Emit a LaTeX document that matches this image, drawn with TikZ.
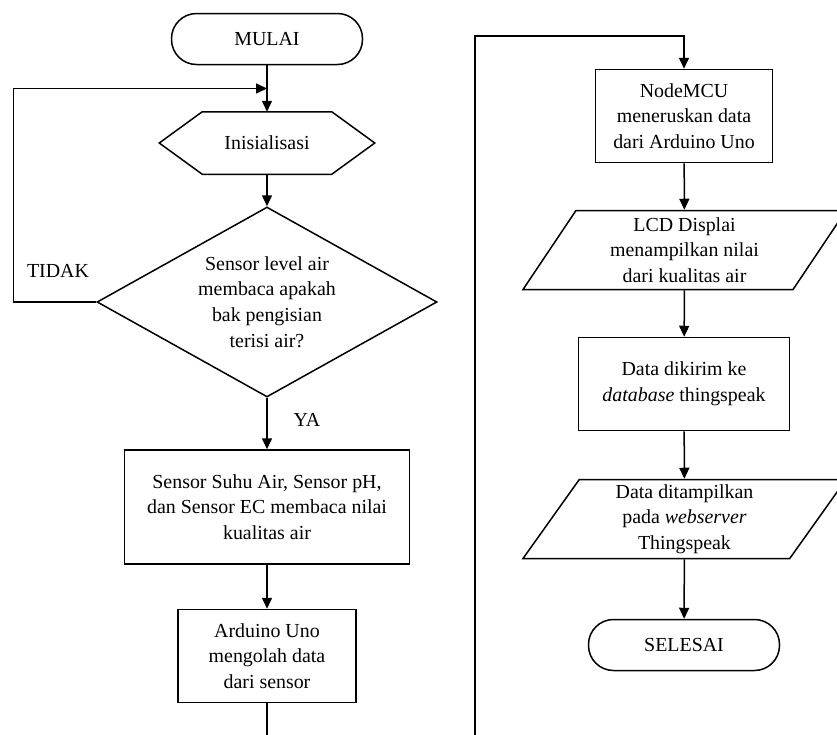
\documentclass[tikz,border=0pt]{standalone}
\usepackage{fontspec}
\setmainfont{Liberation Serif}
\usepackage{tikz}
\usetikzlibrary{shapes, shapes.geometric, calc, positioning, arrows.meta}

\tikzset{
	terminal/.style={draw, rectangle, rounded corners=25pt, minimum width=191pt, minimum height=51pt, align=center},
	process/.style={draw, rectangle, inner sep=0pt, align=center},
	io/.style={draw, trapezium, trapezium left angle=51, trapezium right angle=129, trapezium stretches body, minimum width=323pt, minimum height=79pt, inner sep=0pt, align=center},
	decision/.style={draw, diamond, aspect=1.79, minimum width=340pt, minimum height=190pt, inner sep=0pt, align=center},
	prep/.style={rectangle, minimum width=214pt, minimum height=61pt, inner sep=0pt},
	arrow/.style={-{Triangle[length=11pt, width=10pt]}}
}

\begin{document}
\begin{tikzpicture}[x=1pt, y=-1pt, line width=1.5pt, font=\fontsize{19.9}{25.7}\selectfont]
	
	%//page frame, pixels from top left
	\clip (0,0) rectangle (837,734);
	\useasboundingbox (0,0) rectangle (837,734);
	
	%//left column
	\node [terminal] (mulai) at (267,39) {MULAI};
	
	\node [prep] (init) at (267,143) {Inisialisasi};
	\draw (init.west) -- ([xshift=43pt]init.north west) -- ([xshift=-43pt]init.north east) -- (init.east)
		-- ([xshift=-43pt]init.south east) -- ([xshift=43pt]init.south west) -- cycle;
	
	\node [decision] (cek) at (267,302) {Sensor level air\\membaca apakah\\bak pengisian\\terisi air?};
	
	\node [process, minimum width=285pt, minimum height=114pt] (sensor) at (267,507) {Sensor Suhu Air, Sensor pH,\\dan Sensor EC membaca nilai\\kualitas air};
	
	\node [process, minimum width=178pt, minimum height=93pt] (arduino) at (267,656) {Arduino Uno\\mengolah data\\dari sensor};
	
	\node (tidak) at (58,271) {TIDAK};
	\node (ya) at (307,420) {YA};
	
	%//right column
	\node [process, minimum width=177pt, minimum height=93pt] (nodemcu) at (684,116) {NodeMCU\\meneruskan data\\dari Arduino Uno};
	
	\node [io] (lcd) at (684.5,250) {LCD Displai\\menampilkan nilai\\dari kualitas air};
	
	\node [process, minimum width=211pt, minimum height=93pt] (db) at (684,384) {Data dikirim ke\\\textit{database} thingspeak};
	
	\node [io] (web) at (684.5,519) {Data ditampilkan\\pada \textit{webserver}\\Thingspeak};
	
	\node [terminal] (selesai) at (684,645) {SELESAI};
	
	%//connectors
	\coordinate (merge) at ($(mulai.south)!0.5!(init.north)$);
	\coordinate (bawah) at (267,760);
	\coordinate (atas) at (475,36);
	
	\draw [arrow] (mulai) -- (init);
	\draw [arrow] (init) -- (cek);
	\draw [arrow] (cek) -- (sensor);
	\draw [arrow] (sensor) -- (arduino);
	\draw [arrow] (cek.west) -- ++(-83,0) |- (merge);
	\draw [arrow] (arduino.south) -- (bawah) -| (atas) -| (nodemcu.north);
	
	\draw [arrow] (nodemcu) -- (lcd);
	\draw [arrow] (lcd) -- (db);
	\draw [arrow] (db) -- (web);
	\draw [arrow] (web) -- (selesai);
	
\end{tikzpicture}
\end{document}
